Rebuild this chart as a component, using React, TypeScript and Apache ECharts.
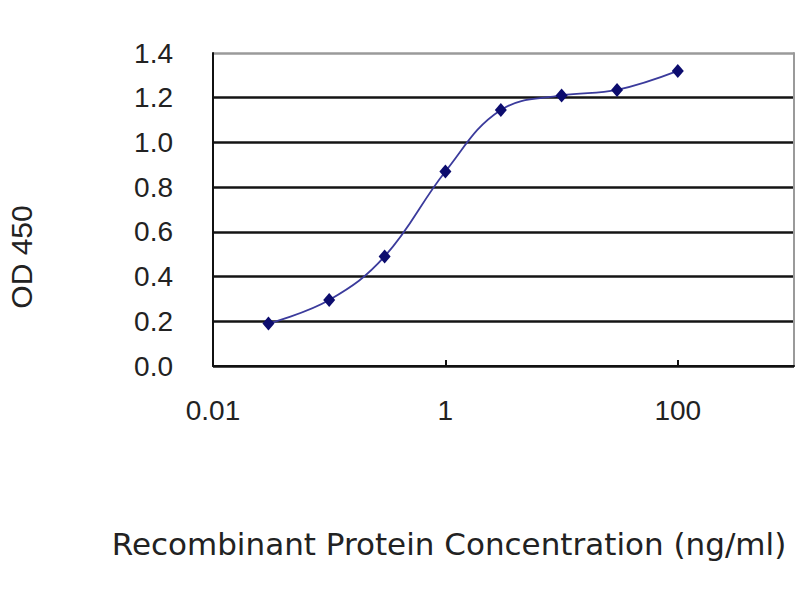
import React, { useEffect, useRef } from "react";
import * as echarts from "echarts";

const concentrations = [0.03, 0.1, 0.3, 1, 3, 10, 30, 100];
const odValues = [0.19, 0.295, 0.49, 0.87, 1.145, 1.21, 1.235, 1.32];
const xTickValues = [0.01, 1, 100];
const xTickLabels = ["0.01", "1", "100"];
const yTickCount = 8;
const xTitle = "Recombinant Protein Concentration (ng/ml)";
const yTitle = "OD 450";
const ARIAL = "'Liberation Sans', Arial, sans-serif";

export default function App() {
  const ref = useRef<HTMLDivElement>(null);
  useEffect(() => {
    if (!ref.current) return;
    const chart = echarts.init(ref.current, null, { renderer: "svg" });
    const splitColors: string[] = [];
    for (let i = 0; i < yTickCount; i++) splitColors.push(i === yTickCount - 1 ? "#9a9a9a" : "#141414");
    chart.setOption({
      animation: false,
      backgroundColor: "#ffffff",
      grid: { left: 213, right: 6, top: 53, bottom: 234, containLabel: false, outerBoundsMode: "none" },
      xAxis: {
        type: "log",
        logBase: 10,
        min: 0.01,
        max: 1000,
        axisLine: { show: true, lineStyle: { color: "#111", width: 2 } },
        axisTick: {
          show: true,
          inside: true,
          length: 6,
          customValues: xTickValues,
          lineStyle: { color: "#111", width: 2 },
        },
        axisLabel: {
          customValues: xTickValues,
          margin: 30,
          fontSize: 28,
          fontFamily: ARIAL,
          color: "#222",
          formatter: (v: number) => {
            const i = xTickValues.findIndex((t) => Math.abs(Math.log10(t) - Math.log10(v)) < 1e-6);
            return i >= 0 ? xTickLabels[i] : "";
          },
        },
        splitLine: { show: false },
        minorTick: { show: false },
      },
      yAxis: [
        {
          type: "value",
          min: 0,
          max: 1.4,
          interval: 0.2,
          axisLine: { show: true, lineStyle: { color: "#111", width: 2 } },
          axisTick: { show: false },
          axisLabel: {
            margin: 40,
            fontSize: 28,
            fontFamily: ARIAL,
            color: "#222",
            formatter: (v: number) => v.toFixed(1),
          },
          splitLine: { show: true, lineStyle: { color: splitColors, width: 2.5 } },
        },
        {
          type: "value",
          position: "right",
          min: 0,
          max: 1.4,
          interval: 0.2,
          axisLine: { show: true, lineStyle: { color: "#9a9a9a", width: 2 } },
          axisTick: { show: false },
          axisLabel: { show: false },
          splitLine: { show: false },
        },
      ],
      series: [
        {
          type: "line",
          data: concentrations.map((c, i) => [c, odValues[i]]),
          smooth: 0.4,
          symbol: "diamond",
          symbolSize: [12, 14],
          itemStyle: { color: "#0c0c6e" },
          lineStyle: { color: "#3b3b9c", width: 1.8 },
          z: 5,
        },
      ],
      graphic: [
        {
          type: "text",
          x: 449,
          y: 544,
          style: {
            text: xTitle,
            fontSize: 31,
            fontFamily: "'DejaVu Sans', sans-serif",
            fill: "#222",
            textAlign: "center",
            textVerticalAlign: "middle",
          },
        },
        {
          type: "text",
          x: 21,
          y: 257,
          rotation: Math.PI / 2,
          style: {
            text: yTitle,
            fontSize: 30,
            fontFamily: ARIAL,
            fill: "#222",
            textAlign: "center",
            textVerticalAlign: "middle",
          },
        },
      ],
    });
    return () => chart.dispose();
  }, []);
  return (
    <div
      ref={ref}
      style={{ position: "fixed", left: 0, top: 0, width: 800, height: 600 }}
    />
  );
}
